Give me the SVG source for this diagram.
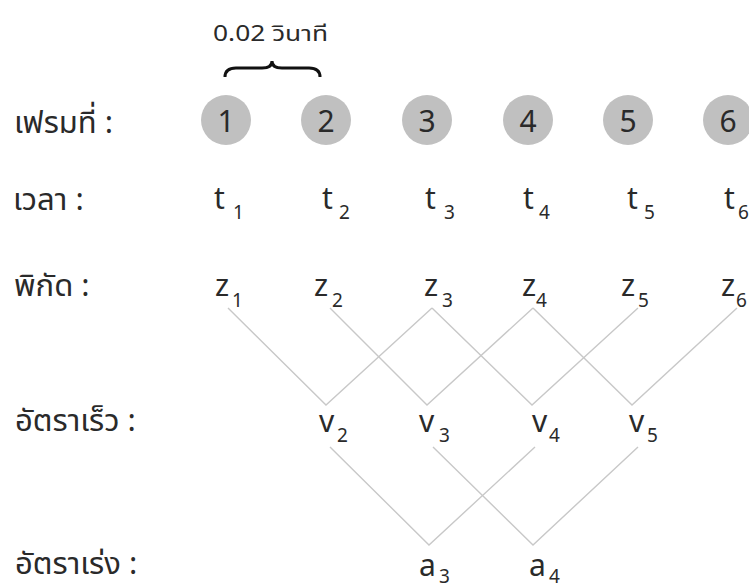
<svg xmlns="http://www.w3.org/2000/svg" width="749" height="586" viewBox="0 0 749 586">
<style>
.lbl{font-family:"Noto Sans Thai","Noto Sans","DejaVu Sans",sans-serif;font-size:31px;fill:#2a2a2a}
.cap{font-family:"Noto Sans Thai","Noto Sans","DejaVu Sans",sans-serif;font-size:21px;fill:#2a2a2a}
.num{font-family:"Noto Sans","Open Sans",sans-serif;font-size:30px;fill:#2a2a2a;text-anchor:middle}
.m{font-family:"Noto Sans","Open Sans",sans-serif;font-size:30px;fill:#2a2a2a}
.s{font-family:"Noto Sans","Open Sans",sans-serif;font-size:19px;fill:#2a2a2a}
.frame{fill:#c0c0c0}
.ln{stroke:#c8c8c8;stroke-width:1.4;fill:none}
</style>
<rect width="749" height="586" fill="#fff"/>
<g id="brace">
<text class="cap" x="213" y="41" textLength="115" lengthAdjust="spacingAndGlyphs">0.02 วินาที</text>
<path d="M225,77 Q225,68 236,68 L262,68 Q272,68 272,61 Q272,68 282,68 L309,68 Q320,68 320,77" fill="none" stroke="#111" stroke-width="3"/>
</g>
<g id="labels">
<text class="lbl" x="14" y="133">เฟรมที่ :</text>
<text class="lbl" x="13" y="210">เวลา :</text>
<text class="lbl" x="14" y="296">พิกัด :</text>
<text class="lbl" x="15" y="431">อัตราเร็ว :</text>
<text class="lbl" x="15" y="574">อัตราเร่ง :</text>
</g>
<g id="frames">
<g id="f1"><circle class="frame" cx="226" cy="120" r="25"/><text class="num" x="226" y="132">1</text></g>
<g id="f2"><circle class="frame" cx="326" cy="120" r="25"/><text class="num" x="326" y="132">2</text></g>
<g id="f3"><circle class="frame" cx="427" cy="120" r="25"/><text class="num" x="427" y="132">3</text></g>
<g id="f4"><circle class="frame" cx="528" cy="120" r="25"/><text class="num" x="528" y="132">4</text></g>
<g id="f5"><circle class="frame" cx="628" cy="120" r="25"/><text class="num" x="628" y="132">5</text></g>
<g id="f6"><circle class="frame" cx="728" cy="120" r="25"/><text class="num" x="728" y="132">6</text></g>
</g>
<g id="times">
<g id="t1"><text class="m" x="214" y="209">t</text><text class="s" x="233" y="219">1</text></g>
<g id="t2"><text class="m" x="322" y="209">t</text><text class="s" x="339" y="219">2</text></g>
<g id="t3"><text class="m" x="425" y="209">t</text><text class="s" x="444" y="219">3</text></g>
<g id="t4"><text class="m" x="523" y="209">t</text><text class="s" x="539" y="219">4</text></g>
<g id="t5"><text class="m" x="627" y="209">t</text><text class="s" x="644" y="219">5</text></g>
<g id="t6"><text class="m" x="724" y="209">t</text><text class="s" x="738" y="219">6</text></g>
</g>
<g id="positions">
<g id="z1"><text class="m" x="215" y="296">z</text><text class="s" x="232" y="307">1</text></g>
<g id="z2"><text class="m" x="314" y="296">z</text><text class="s" x="332" y="307">2</text></g>
<g id="z3"><text class="m" x="424" y="296">z</text><text class="s" x="442" y="307">3</text></g>
<g id="z4"><text class="m" x="522" y="296">z</text><text class="s" x="536" y="307">4</text></g>
<g id="z5"><text class="m" x="621" y="296">z</text><text class="s" x="638" y="307">5</text></g>
<g id="z6"><text class="m" x="721" y="296">z</text><text class="s" x="736" y="307">6</text></g>
</g>
<g id="velocities">
<g id="v2"><text class="m" x="319" y="432">v</text><text class="s" x="337" y="442">2</text></g>
<g id="v3"><text class="m" x="419" y="432">v</text><text class="s" x="439" y="442">3</text></g>
<g id="v4"><text class="m" x="532" y="432">v</text><text class="s" x="549" y="442">4</text></g>
<g id="v5"><text class="m" x="629" y="432">v</text><text class="s" x="647" y="442">5</text></g>
</g>
<g id="accelerations">
<g id="a3"><text class="m" x="419" y="576">a</text><text class="s" x="439" y="583">3</text></g>
<g id="a4"><text class="m" x="529" y="576">a</text><text class="s" x="549" y="583">4</text></g>
</g>
<g id="connectors">
<polyline class="ln" points="228,308 326,405 432,308"/>
<polyline class="ln" points="330,308 427,405 533,308"/>
<polyline class="ln" points="432,308 532,405 638,308"/>
<polyline class="ln" points="533,308 632,405 737,308"/>
<polyline class="ln" points="330,447 429,545 535,447"/>
<polyline class="ln" points="433,447 533,545 638,447"/>
</g>
</svg>
